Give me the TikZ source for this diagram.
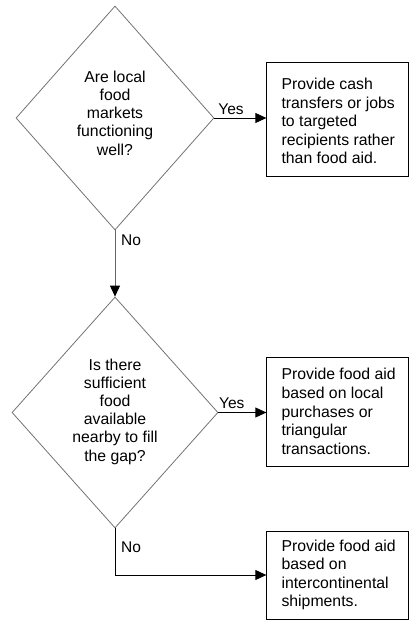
\documentclass[tikz,border=0pt]{standalone}
\usepackage{fontspec}
\setmainfont{Liberation Sans}
\usetikzlibrary{shapes.geometric,arrows.meta}
\begin{document}
\begin{tikzpicture}[x=1pt,y=-1pt,
  decision/.style={diamond,draw=black!55,line width=0.8pt,inner sep=0pt},
  dtext/.style={inner sep=0pt,align=center,font=\fontsize{15.8}{18.2}\selectfont},
  outcome/.style={rectangle,draw=black,line width=0.8pt,inner sep=0pt,minimum width=142pt},
  boxtext/.style={anchor=west,inner sep=0pt,align=left,font=\fontsize{15.8}{18.6}\selectfont},
  lbl/.style={font=\fontsize{15.5}{17}\selectfont,inner sep=1pt},
  tip/.style={-{Triangle[length=11pt,width=10pt,color=black,fill=black]}},
  flow/.style={line width=0.8pt,tip}]
\useasboundingbox (0,0) rectangle (409,620);
\node[decision,minimum width=198pt,minimum height=224pt] (d1) at (115,118) {};
\node[decision,minimum width=206pt,minimum height=231pt] (d2) at (115,412.5) {};
\node[dtext] (q1) at ([yshift=5pt]d1.center) {Are local\\food\\markets\\functioning\\well?};
\node[dtext] (q2) at ([yshift=1pt]d2.center) {Is there\\sufficient\\food\\available\\nearby to fill\\the gap?};
\node[outcome,minimum height=114pt] (b1) at (337.75,119) {};
\node[outcome,minimum height=109pt] (b2) at (337.75,411.5) {};
\node[outcome,minimum height=88pt] (b3) at (337.75,575) {};
\node[boxtext] (t1) at ([xshift=15pt,yshift=-2pt]b1.west) {Provide cash\\transfers or jobs\\to targeted\\recipients rather\\than food aid.};
\node[boxtext] (t2) at ([xshift=15pt]b2.west) {Provide food aid\\based on local\\purchases or\\triangular\\transactions.};
\node[boxtext] (t3) at ([xshift=15pt]b3.west) {Provide food aid\\based on\\intercontinental\\shipments.};
\coordinate (c3) at (d2.south |- b3.west);
\draw[flow] (d1.east) -- node[lbl,above=2pt,pos=0.32] (y1) {Yes} (b1.west |- d1.east);
\draw[flow] (d2.east) -- node[lbl,above=2pt,pos=0.28] (y2) {Yes} (b2.west |- d2.east);
\draw[flow,draw=black!60] (d1.south) -- (d2.north);
\node[lbl,anchor=west] (n1) at (120,240) {No};
\draw[line width=0.8pt] (d2.south) -- (c3);
\draw[flow] (c3) -- (b3.west);
\node[lbl,anchor=west] (n2) at (120,547) {No};
\end{tikzpicture}
\end{document}
